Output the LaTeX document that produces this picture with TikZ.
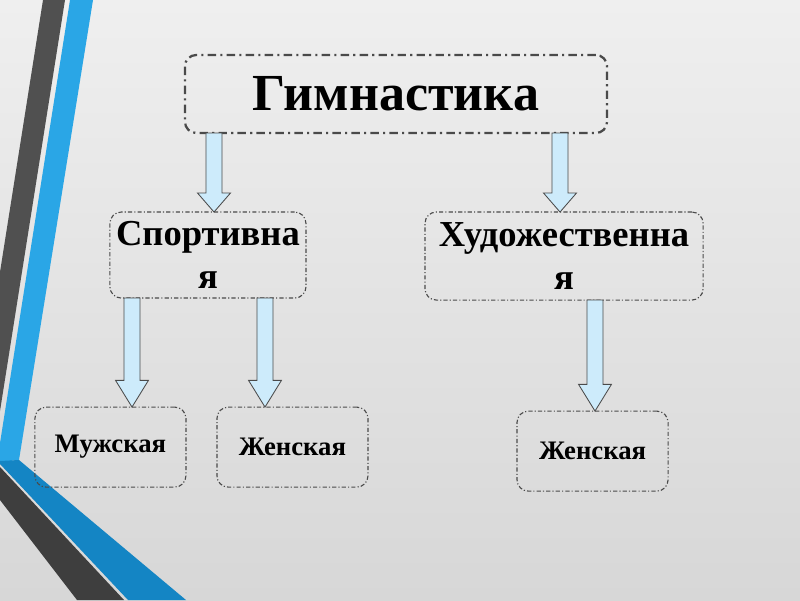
\documentclass[tikz,border=0pt]{standalone}
\usepackage{fontspec}
\setmainfont{Liberation Serif}
\usetikzlibrary{positioning, calc}
\definecolor{GYbg}{HTML}{EFEFEF}
\definecolor{GYbgD}{HTML}{D7D7D7}
\definecolor{GYdark}{HTML}{505050}
\definecolor{GYdarkD}{HTML}{3E3E3E}
\definecolor{GYblue}{HTML}{2AA6E6}
\definecolor{GYblueD}{HTML}{1485C4}
\definecolor{GYarrow}{HTML}{CDEBFB}
\definecolor{GYline}{HTML}{4A4A4A}
\tikzset{
  gybox/.style={
    rectangle, rounded corners=8pt, draw=GYline, line width=0.8pt,
    dash pattern=on 3pt off 1.5pt on 0.8pt off 1.5pt, text=black,
    align=center, inner sep=2pt, outer sep=0pt, font=\bfseries},
  gytop/.style={gybox, line width=1.6pt,
    dash pattern=on 6pt off 3pt on 1.5pt off 3pt,
    minimum width=10.55cm, minimum height=1.95cm,
    font=\fontsize{37}{42}\selectfont\bfseries},
  gymid/.style={gybox, minimum height=2.15cm,
    font=\fontsize{26}{31}\selectfont\bfseries},
  gysub/.style={gybox, minimum width=3.775cm, minimum height=2cm,
    font=\fontsize{19}{22}\selectfont\bfseries},
  gyarr/.style={draw=GYline, line width=0.6pt, fill=GYarrow, line join=miter},
}
% block arrow: [head length]{x}{from node}{to node}
\newcommand{\blockarrow}[4][19pt]{%
  \path[gyarr] let \p1=(#3.south), \p2=(#4.north), \p3=(#2,0) in
    (\x3-5.7pt,\y1) -- (\x3-5.7pt,\y2+#1) -- (\x3-11.7pt,\y2+#1) -- (\x3,\y2)
    -- (\x3+11.7pt,\y2+#1) -- (\x3+5.7pt,\y2+#1) -- (\x3+5.7pt,\y1) -- cycle;}

\begin{document}
\begin{tikzpicture}[x=0.025cm, y=-0.025cm]
  %% background and side stripes
  \useasboundingbox (0,0) rectangle (800,600);
  \shade[top color=GYbg, bottom color=GYbgD] (0,0) rectangle (800,600);
  \fill[GYdark] (43,0) -- (65,0) -- (0,411) -- (0,272) -- cycle;
  \fill[GYblue] (70,0) -- (93,0) -- (19,460) -- (0,462) -- (0,443) -- cycle;
  \fill[GYblueD] (0,461) -- (19,460) -- (186,600) -- (128,600) -- (0,464) -- cycle;
  \fill[GYdarkD] (0,467) -- (124,600) -- (77,600) -- (0,500) -- cycle;
  %% Row 1
  \node[gytop] (gym) at (396,94) {Гимнастика};
  %% Row 2
  \node[gymid, minimum width=4.9cm, below=1.975cm of gym, xshift=-4.7cm] (sport)
        {Спортивна\\я};
  \node[gymid, minimum width=6.95cm, minimum height=2.2cm,
        below=1.975cm of gym, xshift=4.2cm] (art)
        {Художественна\\я};
  %% Row 3
  \node[gysub, below=2.725cm of sport, xshift=-2.4375cm] (men) {Мужская};
  \node[gysub, below=2.725cm of sport, xshift=2.1125cm] (women) {Женская};
  \node[gysub, below=2.775cm of art, xshift=0.7125cm] (artwomen) {Женская};
  %% Arrows
  \blockarrow[13.5pt]{214}{gym}{sport}
  \blockarrow[13.5pt]{560}{gym}{art}
  \blockarrow{132}{sport}{men}
  \blockarrow{265}{sport}{women}
  \blockarrow{595}{art}{artwomen}
\end{tikzpicture}
\end{document}
